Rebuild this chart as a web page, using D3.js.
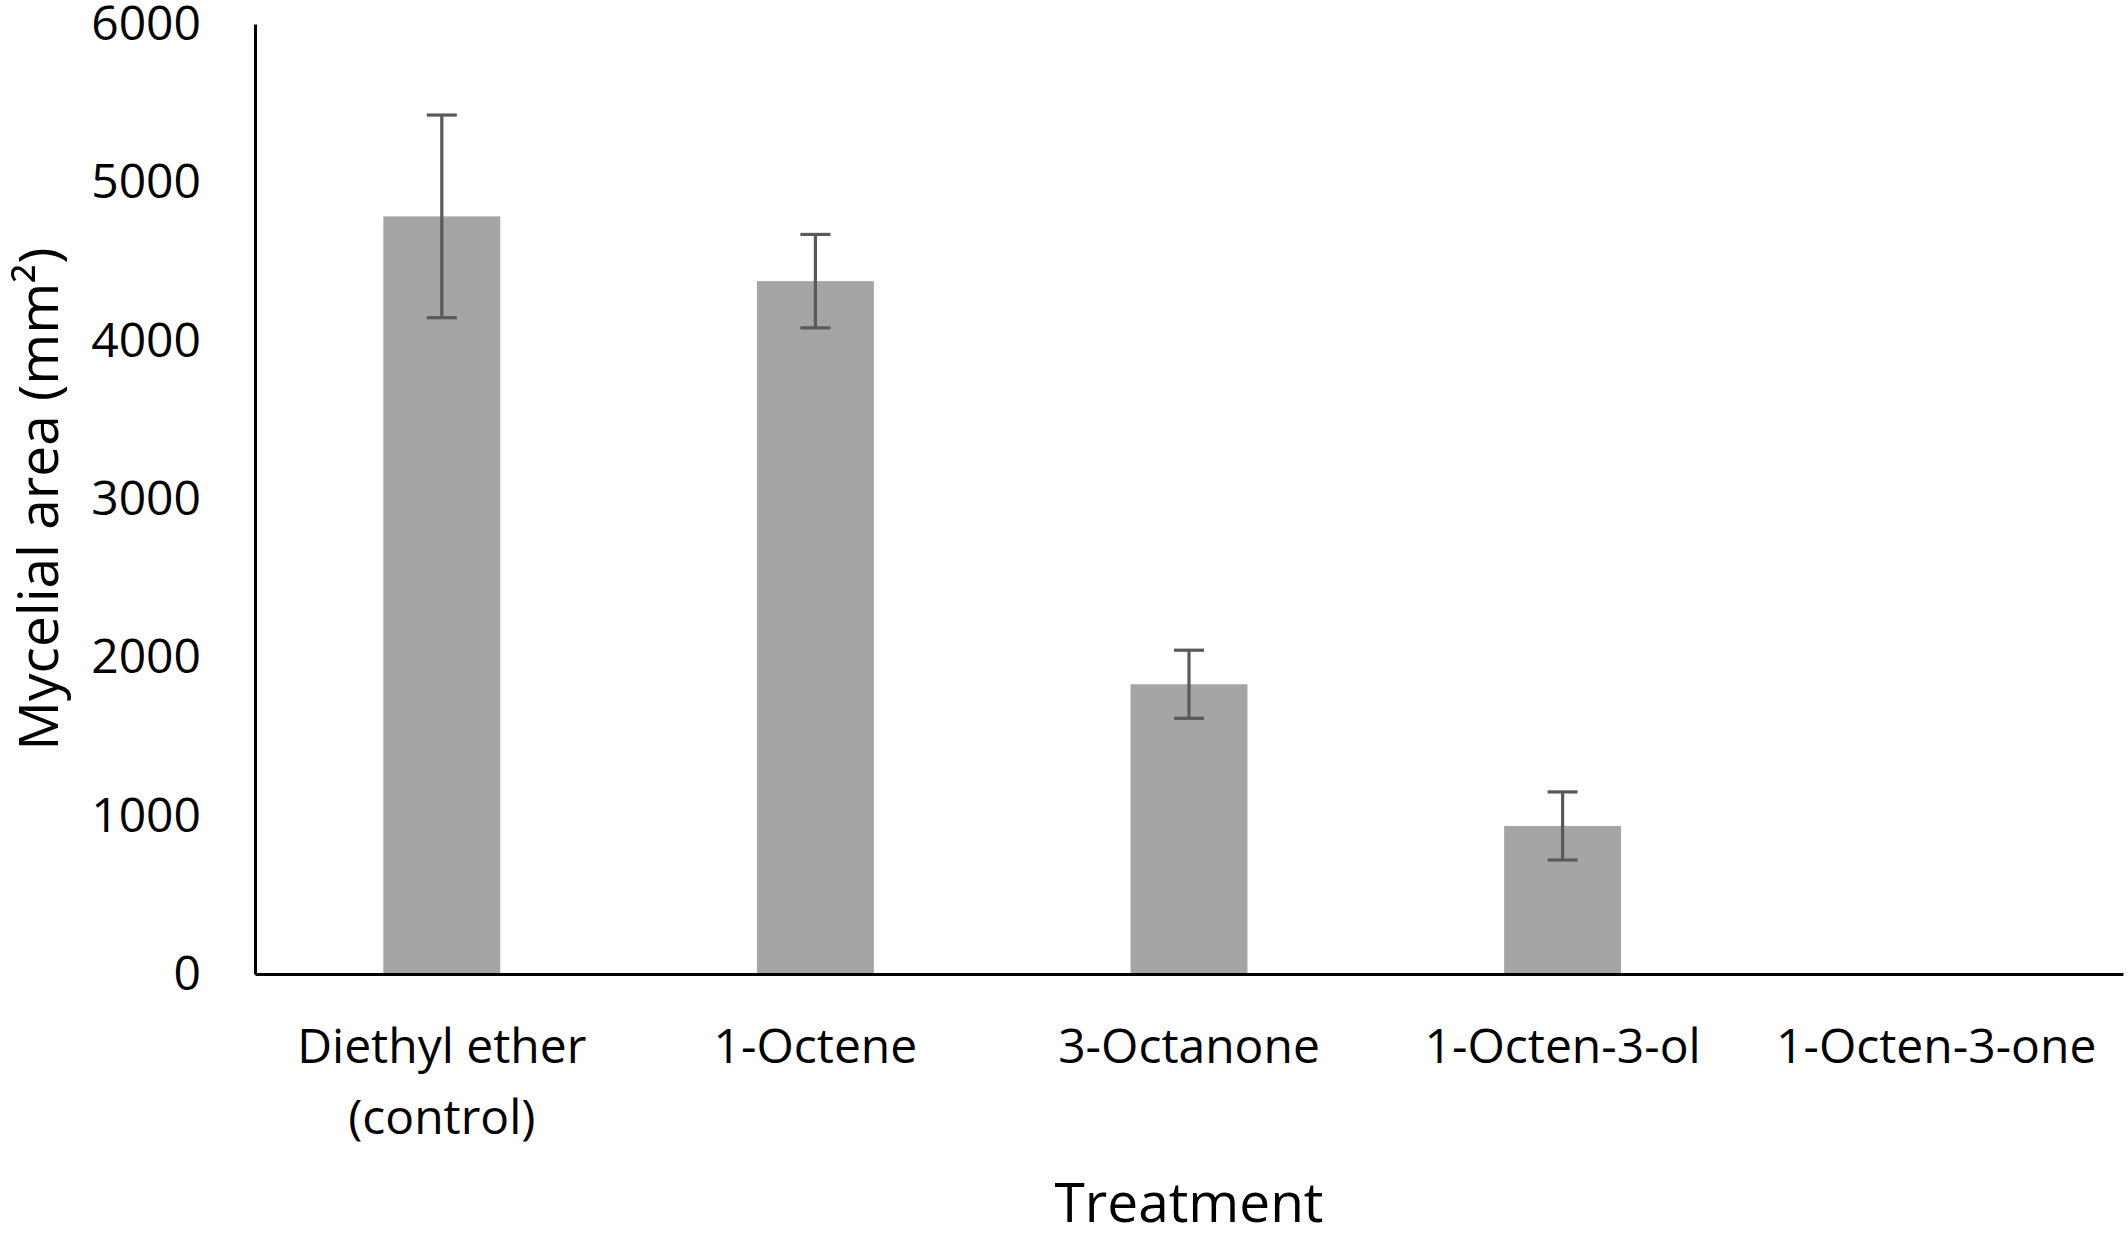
<!DOCTYPE html>
<html>
<head>
<meta charset="utf-8">
<script src="https://cdn.jsdelivr.net/npm/d3@7"></script>
<style>
  body { margin: 0; background: #fff; }
  text { font-family: "Open Sans", "Noto Sans", sans-serif; fill: #000; }
</style>
</head>
<body>
<svg id="chart" width="2128" height="1235"></svg>
<script>
// values
var treatments = [["Diethyl ether", "(control)"], ["1-Octene"], ["3-Octanone"], ["1-Octen-3-ol"], ["1-Octen-3-one"]];
var meanArea = [4785, 4376, 1830, 935, 0];
var errArea = [640, 295, 215, 215, 0];
var yTicks = [0, 1000, 2000, 3000, 4000, 5000, 6000];

var svg = d3.select("#chart");
var plotL = 255, plotR = 2123, plotT = 24, plotB = 974;

var x = d3.scaleBand()
    .domain(d3.range(treatments.length))
    .range([plotL, plotR])
    .padding(0);
var y = d3.scaleLinear().domain([0, 6000]).range([plotB, plotT]);

var barW = x.bandwidth() * 0.313;
var rows = d3.range(treatments.length).map(function(i){
    return {i: i, v: meanArea[i], e: errArea[i]};
});

// bars
svg.selectAll(".bar")
    .data(rows.filter(function(d){ return d.v > 0; }))
    .enter().append("rect").attr("class", "bar")
    .attr("x", function(d){ return x(d.i) + x.bandwidth()/2 - barW/2; })
    .attr("width", barW)
    .attr("y", function(d){ return y(d.v); })
    .attr("height", function(d){ return y(0) - y(d.v); })
    .attr("fill", "#a5a5a5");

// error bars
var eb = svg.selectAll(".err")
    .data(rows.filter(function(d){ return d.e > 0; }))
    .enter().append("g").attr("class", "err")
    .attr("stroke", "#595959").attr("stroke-width", 3.2);
eb.append("line")
    .attr("x1", function(d){ return x(d.i) + x.bandwidth()/2; })
    .attr("x2", function(d){ return x(d.i) + x.bandwidth()/2; })
    .attr("y1", function(d){ return y(d.v + d.e); })
    .attr("y2", function(d){ return y(d.v - d.e); });
[1, -1].forEach(function(s){
    eb.append("line")
        .attr("x1", function(d){ return x(d.i) + x.bandwidth()/2 - 15; })
        .attr("x2", function(d){ return x(d.i) + x.bandwidth()/2 + 15; })
        .attr("y1", function(d){ return y(d.v + s*d.e); })
        .attr("y2", function(d){ return y(d.v + s*d.e); });
});

// y axis
var yAxis = svg.append("g").attr("transform", "translate(" + plotL + ",0)")
    .call(d3.axisLeft(y).tickValues(yTicks).tickSize(0).tickPadding(54).tickFormat(d3.format("d")));
yAxis.select(".domain").attr("stroke", "#000").attr("stroke-width", 3);
yAxis.selectAll("text").style("font-size", "48px").attr("fill", "#000");

// x axis
var xAxis = svg.append("g").attr("transform", "translate(0," + plotB + ")")
    .call(d3.axisBottom(x).tickSize(0).tickFormat(""));
xAxis.select(".domain").attr("stroke", "#000").attr("stroke-width", 3);
xAxis.selectAll(".tick").each(function(i){
    var t = d3.select(this).append("text")
        .attr("text-anchor", "middle")
        .style("font-size", "48px");
    treatments[i].forEach(function(line, k){
        t.append("tspan").attr("x", 0).attr("y", 89 + k*71).text(line);
    });
});

// axis titles
svg.append("text")
    .attr("transform", "translate(58," + (plotT + plotB)/2 + ") rotate(-90)")
    .attr("text-anchor", "middle")
    .style("font-size", "55px")
    .text("Mycelial area (mm²)");
svg.append("text")
    .attr("x", (plotL + plotR)/2).attr("y", 1222)
    .attr("text-anchor", "middle")
    .style("font-size", "55px")
    .text("Treatment");
</script>
</body>
</html>
